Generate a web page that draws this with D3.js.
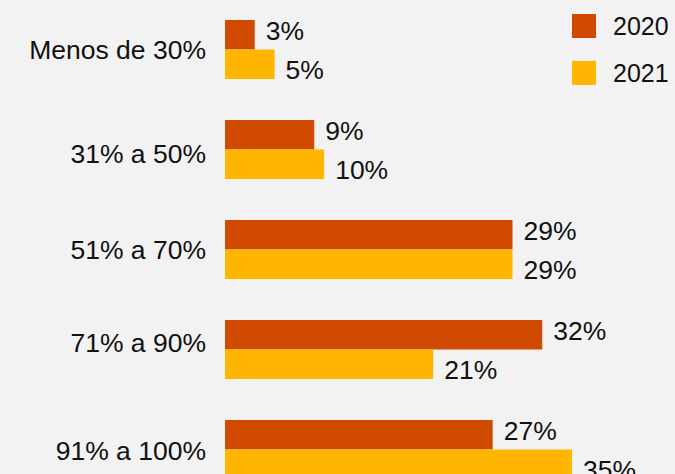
<!DOCTYPE html>
<html>
<head>
<meta charset="utf-8">
<script src="https://cdn.jsdelivr.net/npm/d3@7"></script>
<style>
  body { margin: 0; background: #f2f2f2; }
  text { font-family: "Liberation Sans", Arial, sans-serif; fill: #111; }
</style>
</head>
<body>
<div id="chart"></div>
<script>
var categories = ["Menos de 30%", "31% a 50%", "51% a 70%", "71% a 90%", "91% a 100%"];
var series = ["2020", "2021"];
var values2020 = [3, 9, 29, 32, 27];
var values2021 = [5, 10, 29, 21, 35];

var colors = { "2020": "#d04a02", "2021": "#ffb600" };

var width = 675, height = 474;

var svg = d3.select("#chart")
  .append("svg")
  .attr("width", width)
  .attr("height", height);

svg.append("rect")
  .attr("width", width)
  .attr("height", height)
  .attr("fill", "#f2f2f2");

var x = d3.scaleLinear().domain([0, 35]).range([225, 572]);

var y = d3.scaleBand()
  .domain(categories)
  .range([-0.5, 499.5])
  .paddingInner(0.41)
  .paddingOuter(0.205);

var ySub = d3.scaleBand()
  .domain(series)
  .range([0, y.bandwidth()]);

var rows = categories.map(function(c, i) {
  return { cat: c, i: i, vals: [
    { s: "2020", v: values2020[i] },
    { s: "2021", v: values2021[i] }
  ]};
});

// category labels in the original are not all exactly centred
var labelNudge = [0, 4, 0, -7, 1];

var groups = svg.selectAll("g.row")
  .data(rows)
  .enter()
  .append("g")
  .attr("class", "row")
  .attr("transform", function(d) { return "translate(0," + y(d.cat) + ")"; });

groups.append("text")
  .attr("x", 206)
  .attr("y", function(d) { return y.bandwidth() / 2 + labelNudge[d.i]; })
  .attr("dy", "0.35em")
  .attr("text-anchor", "end")
  .style("font-size", "26.5px")
  .text(function(d) { return d.cat; });

groups.selectAll("rect")
  .data(function(d) { return d.vals; })
  .enter()
  .append("rect")
  .attr("x", x(0))
  .attr("y", function(d) { return ySub(d.s); })
  .attr("width", function(d) { return x(d.v) - x(0); })
  .attr("height", ySub.bandwidth())
  .attr("fill", function(d) { return colors[d.s]; });

groups.selectAll("text.val")
  .data(function(d) { return d.vals; })
  .enter()
  .append("text")
  .attr("class", "val")
  .attr("x", function(d) { return x(d.v) + 11; })
  .attr("y", function(d) { return ySub(d.s) + ySub.bandwidth() / 2 + (d.s === "2020" ? -4 : 5); })
  .attr("dy", "0.35em")
  .style("font-size", "26.5px")
  .text(function(d) { return d.v + "%"; });

// legend
var legend = svg.selectAll("g.legend")
  .data(series)
  .enter()
  .append("g")
  .attr("class", "legend")
  .attr("transform", function(d, i) { return "translate(572," + (14 + i * 47) + ")"; });

legend.append("rect")
  .attr("width", 24)
  .attr("height", 24)
  .attr("fill", function(d) { return colors[d]; });

legend.append("text")
  .attr("x", 41)
  .attr("y", 12)
  .attr("dy", "0.35em")
  .style("font-size", "25px")
  .text(function(d) { return d; });
</script>
</body>
</html>
